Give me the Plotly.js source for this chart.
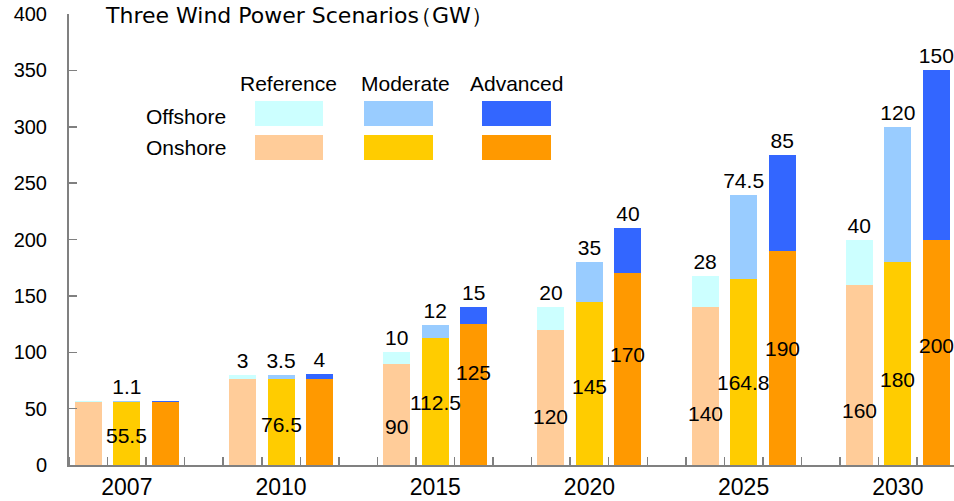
<!DOCTYPE html>
<html>
<head>
<meta charset="utf-8">
<script src="https://cdn.plot.ly/plotly-3.0.1.min.js"></script>
<style>html,body{margin:0;padding:0;background:#fff;}#chart{width:954px;height:501px;}</style>
</head>
<body>
<div id="chart"></div>
<script>
// ---------------- DATA ----------------
const years = ['2007', '2010', '2015', '2020', '2025', '2030'];
const scenarios = ['Reference', 'Moderate', 'Advanced'];
const refOnshore  = [55.5, 76.5, 90, 120, 140, 160];
const refOffshore = [1.1, 3, 10, 20, 28, 40];
const modOnshore  = [55.5, 76.5, 112.5, 145, 164.8, 180];
const modOffshore = [1.1, 3.5, 12, 35, 74.5, 120];
const advOnshore  = [55.5, 76.5, 125, 170, 190, 200];
const advOffshore = [1.1, 4, 15, 40, 85, 150];
const yTicks = [0, 50, 100, 150, 200, 250, 300, 350, 400];

// ---------------- STYLE / LAYOUT ----------------
const FONT = 'Liberation Sans, Arial, sans-serif';
const TFONT = 'DejaVu Sans, sans-serif';
const W = 954, H = 501, ML = 69, MR = 0, MT = 14, MB = 36;
const colors = {
  Reference: {on: '#FFCC99', off: '#CCFFFF'},
  Moderate:  {on: '#FFCC00', off: '#99CCFF'},
  Advanced:  {on: '#FF9900', off: '#3366FF'}
};
const onData = {Reference: refOnshore, Moderate: modOnshore, Advanced: advOnshore};
const offData = {Reference: refOffshore, Moderate: modOffshore, Advanced: advOffshore};
// label placement heights inside the onshore bars (layout choice, in axis units)
const onLabelHeight = {
  Reference: [null, null, 34, 43, 46, 48],
  Moderate:  [26.6, 36, 55, 70, 73, 76],
  Advanced:  [null, null, 82, 98, 103.6, 106]
};
const groupSize = 4;
const xpos = (yi, si) => yi * groupSize + si;

const traces = [];
const annotations = [];
scenarios.forEach((s, si) => {
  const xs = years.map((y, yi) => xpos(yi, si));
  traces.push({
    type: 'bar', x: xs, y: onData[s], width: 0.7,
    marker: {color: colors[s].on, line: {width: 0}},
    hoverinfo: 'skip', showlegend: false
  });
});
scenarios.forEach((s, si) => {
  const xs = years.map((y, yi) => xpos(yi, si));
  const txt = offData[s].map((v, yi) => (si !== 1 && yi === 0) ? '' : String(v));
  traces.push({
    type: 'bar', x: xs, y: offData[s], width: 0.7,
    marker: {color: colors[s].off, line: {width: 0}},
    text: txt, textposition: 'outside', cliponaxis: false, constraintext: 'none',
    textfont: {family: FONT, size: 21, color: '#000'},
    hoverinfo: 'skip', showlegend: false
  });
  onData[s].forEach((v, yi) => {
    const hy = onLabelHeight[s][yi];
    if (hy === null) return;
    annotations.push({
      x: xpos(yi, si), y: hy, xref: 'x', yref: 'y', showarrow: false,
      text: String(v), font: {family: FONT, size: 21, color: '#000'},
      xanchor: 'center', yanchor: 'middle'
    });
  });
});

// pixel -> paper helpers for the legend table and title
const PW = W - ML - MR, PH = H - MT - MB;
const px = p => (p - ML) / PW;
const py = p => (H - MB - p) / PH;

const shapes = [];
const legendCols = [[255, 323], [364, 433], [482, 551]];
const headerCenters = [288, 405, 516];
scenarios.forEach((s, si) => {
  const [x0, x1] = legendCols[si];
  shapes.push({type: 'rect', xref: 'paper', yref: 'paper', x0: px(x0), x1: px(x1), y0: py(126), y1: py(101),
               fillcolor: colors[s].off, line: {width: 0}});
  shapes.push({type: 'rect', xref: 'paper', yref: 'paper', x0: px(x0), x1: px(x1), y0: py(160), y1: py(135),
               fillcolor: colors[s].on, line: {width: 0}});
  annotations.push({xref: 'paper', yref: 'paper', x: px(headerCenters[si]), y: py(84), showarrow: false,
                    text: s, xanchor: 'center', yanchor: 'middle', font: {family: FONT, size: 21, color: '#000'}});
});
annotations.push({xref: 'paper', yref: 'paper', x: px(144), y: py(116), showarrow: false, text: 'Offshore',
                  xanchor: 'left', yanchor: 'middle', font: {family: FONT, size: 21, color: '#000'}});
annotations.push({xref: 'paper', yref: 'paper', x: px(144), y: py(147), showarrow: false, text: 'Onshore',
                  xanchor: 'left', yanchor: 'middle', font: {family: FONT, size: 21, color: '#000'}});
annotations.push({xref: 'paper', yref: 'paper', x: px(103), y: py(16), showarrow: false,
                  text: 'Three Wind Power Scenario<span style="letter-spacing:-9px">s</span>（GW<span style="letter-spacing:-9px">）</span>',
                  xanchor: 'left', yanchor: 'middle',
                  font: {family: TFONT, size: 22, color: '#000'}});

const boundaries = [];
for (let k = 0; k <= years.length * groupSize; k++) boundaries.push(k - 0.5);

const layout = {
  width: W, height: H,
  margin: {l: ML, r: MR, t: MT, b: MB, pad: 0},
  paper_bgcolor: '#fff', plot_bgcolor: '#fff',
  barmode: 'stack', showlegend: false,
  font: {family: FONT, color: '#000'},
  xaxis: {
    range: [-0.5, -0.5 + PW / 38.55],
    tickmode: 'array', tickvals: years.map((y, yi) => xpos(yi, 1)), ticktext: years,
    ticks: '', showgrid: false, zeroline: false,
    showline: true, linecolor: '#808080', linewidth: 2,
    tickfont: {family: FONT, size: 23, color: '#000'},
    ticklabelstandoff: 0,
    minor: {tickmode: 'array', tickvals: boundaries, ticks: 'inside', ticklen: 8, tickcolor: '#808080', tickwidth: 1.5, showgrid: false}
  },
  yaxis: {
    range: [0, 400], tickmode: 'array', tickvals: yTicks, ticktext: yTicks.map(String),
    ticks: 'inside', ticklen: 8, tickcolor: '#808080', tickwidth: 1.5,
    showline: true, linecolor: '#808080', linewidth: 2,
    showgrid: false, zeroline: false,
    tickfont: {family: FONT, size: 20, color: '#000'},
    ticklabelstandoff: 16
  },
  shapes: shapes,
  annotations: annotations
};

Plotly.newPlot('chart', traces, layout, {staticPlot: true, displayModeBar: false});
</script>
</body>
</html>
